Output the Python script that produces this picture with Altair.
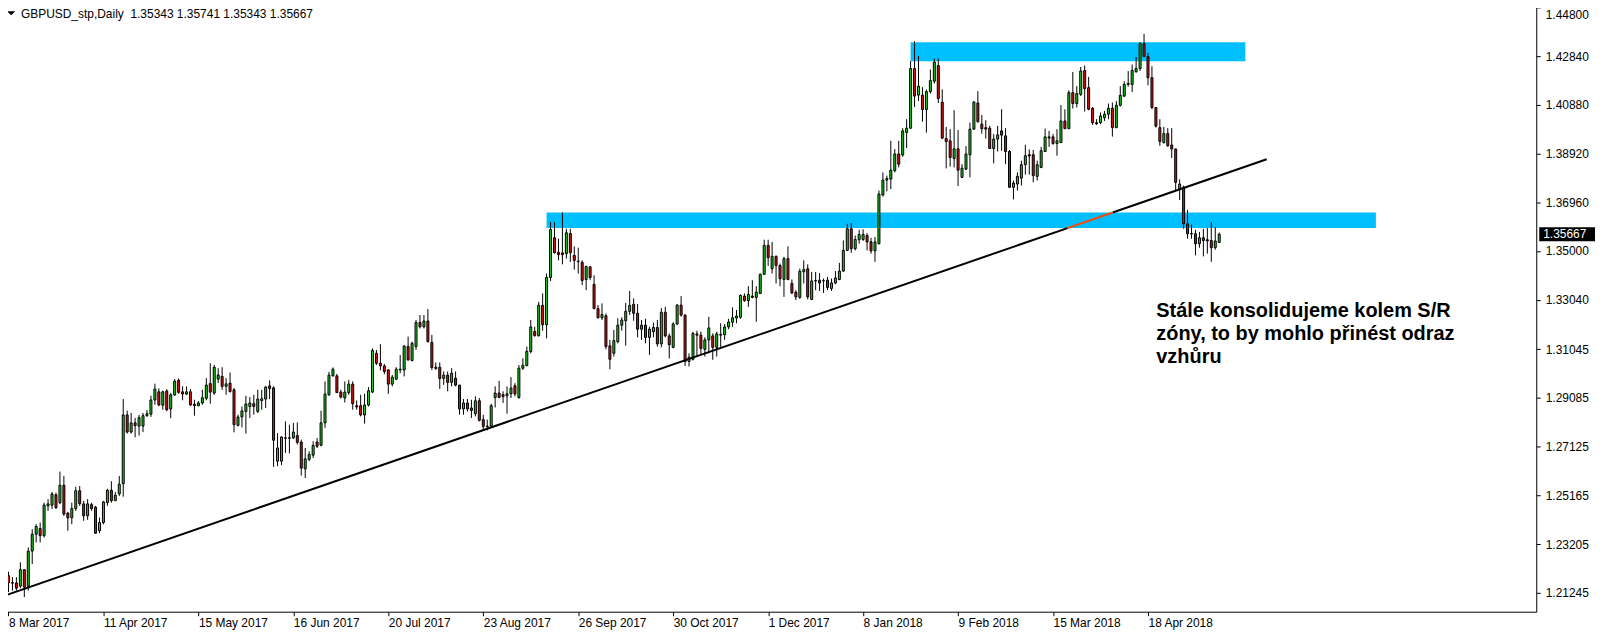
import json
import altair as alt
import pandas as pd

# ---- daily candles, GBPUSD (bar index 0 = 8 Mar 2017) ----
opens = [
    1.2193, 1.2165, 1.2164, 1.2151, 1.2217, 1.2151, 1.2292, 1.2360, 1.2383, 1.2354,
    1.2474, 1.2477, 1.2519, 1.2487, 1.2557, 1.2445, 1.2426, 1.2463, 1.2535, 1.2482,
    1.2434, 1.2479, 1.2469, 1.2374, 1.2407, 1.2487, 1.2537, 1.2495, 1.2522, 1.2563,
    1.2840, 1.2771, 1.2808, 1.2795, 1.2795, 1.2837, 1.2843, 1.2900, 1.2933, 1.2879,
    1.2936, 1.2864, 1.2920, 1.2979, 1.2933, 1.2924, 1.2933, 1.2883, 1.2877, 1.2888,
    1.2907, 1.2966, 1.2928, 1.2984, 1.2995, 1.2955, 1.2968, 1.2941, 1.2798, 1.2832,
    1.2854, 1.2874, 1.2885, 1.2854, 1.2898, 1.2904, 1.2957, 1.2949, 1.2654, 1.2654,
    1.2748, 1.2746, 1.2748, 1.2757, 1.2731, 1.2623, 1.2661, 1.2678, 1.2731, 1.2718,
    1.2808, 1.2921, 1.2997, 1.2997, 1.2932, 1.2908, 1.2930, 1.2964, 1.2877, 1.2877,
    1.2840, 1.2880, 1.2932, 1.3088, 1.3048, 1.3037, 1.3021, 1.2964, 1.2984, 1.3021,
    1.3021, 1.3115, 1.3059, 1.3115, 1.3212, 1.3195, 1.3218, 1.3132, 1.3032, 1.3032,
    1.2987, 1.3000, 1.2971, 1.2988, 1.2960, 1.2864, 1.2888, 1.2868, 1.2845, 1.2897,
    1.2821, 1.2795, 1.2794, 1.2910, 1.2928, 1.2922, 1.2917, 1.2925, 1.2957, 1.2910,
    1.3028, 1.3039, 1.3095, 1.3176, 1.3159, 1.3281, 1.3203, 1.3393, 1.3553, 1.3494,
    1.3492, 1.3489, 1.3570, 1.3482, 1.3459, 1.3454, 1.3385, 1.3436, 1.3365, 1.3268,
    1.3231, 1.3239, 1.3118, 1.3088, 1.3135, 1.3201, 1.3219, 1.3257, 1.3285, 1.3249,
    1.3185, 1.3201, 1.3152, 1.3175, 1.3192, 1.3126, 1.3253, 1.3158, 1.3112, 1.3206,
    1.3282, 1.3242, 1.3055, 1.3064, 1.3166, 1.3161, 1.3104, 1.3142, 1.3158, 1.3112,
    1.3164, 1.3163, 1.3194, 1.3213, 1.3230, 1.3233, 1.3318, 1.3300, 1.3318, 1.3313,
    1.3329, 1.3406, 1.3522, 1.3428, 1.3478, 1.3441, 1.3385, 1.3469, 1.3369, 1.3334,
    1.3313, 1.3416, 1.3428, 1.3305, 1.3379, 1.3382, 1.3380, 1.3382, 1.3349, 1.3371,
    1.3385, 1.3419, 1.3502, 1.3589, 1.3509, 1.3545, 1.3546, 1.3562, 1.3537, 1.3500,
    1.3529, 1.3725, 1.3785, 1.3789, 1.3823, 1.3890, 1.3886, 1.3977, 1.3994, 1.4234,
    1.4127, 1.4127, 1.4069, 1.4141, 1.4183, 1.4246, 1.4099, 1.3952, 1.3943, 1.3872,
    1.3911, 1.3796, 1.3829, 1.3887, 1.3990, 1.4095, 1.4010, 1.3996, 1.3994, 1.3912,
    1.3950, 1.3983, 1.3963, 1.3900, 1.3756, 1.3769, 1.3793, 1.3847, 1.3887, 1.3887,
    1.3800, 1.3836, 1.3900, 1.3954, 1.3959, 1.3932, 1.3936, 1.4023, 1.3992, 1.4137,
    1.4093, 1.4130, 1.4226, 1.4157, 1.4074, 1.4016, 1.4016, 1.4036, 1.4050, 1.4074,
    1.3996, 1.4086, 1.4123, 1.4170, 1.4170, 1.4221, 1.4234, 1.4334, 1.4282, 1.4197,
    1.4077, 1.3996, 1.3936, 1.3972, 1.3926, 1.3910, 1.3749, 1.3756, 1.3609, 1.3570,
    1.3569, 1.3529, 1.3553, 1.3545, 1.3542, 1.3513, 1.35343,
]
highs = [
    1.2209, 1.2187, 1.2187, 1.2247, 1.2220, 1.2307, 1.2380, 1.2400, 1.2407, 1.2487,
    1.2501, 1.2530, 1.2527, 1.2612, 1.2594, 1.2450, 1.2487, 1.2551, 1.2554, 1.2494,
    1.2501, 1.2487, 1.2474, 1.2427, 1.2494, 1.2543, 1.2573, 1.2530, 1.2594, 1.2904,
    1.2857, 1.2848, 1.2828, 1.2840, 1.2848, 1.2859, 1.2917, 1.2966, 1.2947, 1.2938,
    1.2944, 1.2928, 1.2984, 1.2987, 1.2955, 1.2955, 1.2944, 1.2901, 1.2896, 1.2942,
    1.2988, 1.3048, 1.3041, 1.3028, 1.3032, 1.2988, 1.3011, 1.2948, 1.2841, 1.2874,
    1.2917, 1.2912, 1.2921, 1.2941, 1.2941, 1.2957, 1.2979, 1.2955, 1.2767, 1.2754,
    1.2814, 1.2801, 1.2808, 1.2810, 1.2741, 1.2707, 1.2694, 1.2734, 1.2747, 1.2857,
    1.2975, 1.3013, 1.3031, 1.3005, 1.2941, 1.2975, 1.2981, 1.2975, 1.2898, 1.2921,
    1.2925, 1.2952, 1.3108, 1.3101, 1.3125, 1.3045, 1.3024, 1.3001, 1.3032, 1.3081,
    1.3121, 1.3155, 1.3135, 1.3222, 1.3242, 1.3242, 1.3266, 1.3162, 1.3051, 1.3051,
    1.3015, 1.3015, 1.3028, 1.3015, 1.2961, 1.2904, 1.2904, 1.2901, 1.2915, 1.2908,
    1.2841, 1.2821, 1.2885, 1.2955, 1.2977, 1.2935, 1.2955, 1.2992, 1.2968, 1.3041,
    1.3068, 1.3115, 1.3222, 1.3195, 1.3295, 1.3329, 1.3409, 1.3616, 1.3616, 1.3549,
    1.3655, 1.3589, 1.3589, 1.3518, 1.3513, 1.3462, 1.3441, 1.3438, 1.3402, 1.3282,
    1.3289, 1.3248, 1.3142, 1.3182, 1.3229, 1.3233, 1.3291, 1.3339, 1.3309, 1.3286,
    1.3222, 1.3227, 1.3195, 1.3211, 1.3222, 1.3270, 1.3275, 1.3168, 1.3213, 1.3286,
    1.3318, 1.3244, 1.3088, 1.3175, 1.3179, 1.3175, 1.3152, 1.3235, 1.3168, 1.3175,
    1.3209, 1.3206, 1.3227, 1.3273, 1.3262, 1.3325, 1.3329, 1.3358, 1.3382, 1.3358,
    1.3409, 1.3545, 1.3545, 1.3536, 1.3482, 1.3449, 1.3476, 1.3518, 1.3385, 1.3342,
    1.3429, 1.3462, 1.3446, 1.3415, 1.3415, 1.3411, 1.3389, 1.3395, 1.3389, 1.3419,
    1.3452, 1.3542, 1.3609, 1.3612, 1.3562, 1.3585, 1.3587, 1.3572, 1.3553, 1.3556,
    1.3743, 1.3816, 1.3803, 1.3943, 1.3910, 1.3943, 1.3994, 1.4030, 1.4264, 1.4344,
    1.4284, 1.4159, 1.4150, 1.4230, 1.4274, 1.4274, 1.4150, 1.3999, 1.3990, 1.4066,
    1.3986, 1.3849, 1.3922, 1.4016, 1.4103, 1.4143, 1.4047, 1.4026, 1.4003, 1.3970,
    1.4003, 1.4070, 1.3994, 1.3906, 1.3783, 1.3816, 1.3863, 1.3927, 1.3908, 1.3906,
    1.3863, 1.3919, 1.3992, 1.3983, 1.3970, 1.3990, 1.4087, 1.4070, 1.4146, 1.4220,
    1.4163, 1.4240, 1.4246, 1.4200, 1.4079, 1.4030, 1.4057, 1.4063, 1.4093, 1.4097,
    1.4103, 1.4163, 1.4183, 1.4224, 1.4250, 1.4280, 1.4340, 1.4374, 1.4297, 1.4243,
    1.4079, 1.4030, 1.3999, 1.3994, 1.3994, 1.3912, 1.3788, 1.3763, 1.3665, 1.3606,
    1.3585, 1.3576, 1.3589, 1.3592, 1.3616, 1.3596, 1.35741,
]
lows = [
    1.2127, 1.2133, 1.2133, 1.2143, 1.2107, 1.2133, 1.2240, 1.2327, 1.2327, 1.2347,
    1.2454, 1.2461, 1.2461, 1.2481, 1.2434, 1.2374, 1.2400, 1.2454, 1.2474, 1.2414,
    1.2418, 1.2454, 1.2362, 1.2364, 1.2400, 1.2474, 1.2487, 1.2494, 1.2514, 1.2511,
    1.2765, 1.2765, 1.2750, 1.2757, 1.2771, 1.2832, 1.2832, 1.2881, 1.2875, 1.2861,
    1.2855, 1.2827, 1.2917, 1.2925, 1.2899, 1.2920, 1.2877, 1.2837, 1.2875, 1.2881,
    1.2899, 1.2885, 1.2921, 1.2968, 1.2941, 1.2921, 1.2930, 1.2770, 1.2794, 1.2790,
    1.2765, 1.2828, 1.2841, 1.2848, 1.2861, 1.2868, 1.2904, 1.2631, 1.2634, 1.2638,
    1.2687, 1.2685, 1.2743, 1.2721, 1.2596, 1.2586, 1.2654, 1.2667, 1.2707, 1.2714,
    1.2788, 1.2917, 1.2995, 1.2928, 1.2906, 1.2890, 1.2921, 1.2861, 1.2861, 1.2834,
    1.2805, 1.2874, 1.2928, 1.3041, 1.3019, 1.3004, 1.2925, 1.2955, 1.2981, 1.3008,
    1.2995, 1.3059, 1.3055, 1.3102, 1.3188, 1.3188, 1.3131, 1.3021, 1.3021, 1.2945,
    1.2961, 1.2935, 1.2955, 1.2955, 1.2841, 1.2841, 1.2854, 1.2828, 1.2834, 1.2814,
    1.2778, 1.2778, 1.2792, 1.2870, 1.2908, 1.2888, 1.2845, 1.2908, 1.2915, 1.2905,
    1.3021, 1.3035, 1.3088, 1.3155, 1.3155, 1.3179, 1.3148, 1.3379, 1.3489, 1.3462,
    1.3446, 1.3469, 1.3456, 1.3425, 1.3409, 1.3362, 1.3342, 1.3382, 1.3265, 1.3228,
    1.3222, 1.3104, 1.3024, 1.3075, 1.3128, 1.3179, 1.3119, 1.3242, 1.3219, 1.3152,
    1.3142, 1.3128, 1.3082, 1.3152, 1.3115, 1.3112, 1.3152, 1.3067, 1.3108, 1.3202,
    1.3235, 1.3037, 1.3035, 1.3059, 1.3075, 1.3082, 1.3075, 1.3088, 1.3062, 1.3075,
    1.3108, 1.3142, 1.3185, 1.3195, 1.3209, 1.3227, 1.3295, 1.3275, 1.3309, 1.3215,
    1.3326, 1.3404, 1.3440, 1.3409, 1.3369, 1.3358, 1.3315, 1.3382, 1.3326, 1.3302,
    1.3307, 1.3369, 1.3305, 1.3302, 1.3342, 1.3339, 1.3331, 1.3342, 1.3339, 1.3366,
    1.3382, 1.3415, 1.3500, 1.3492, 1.3502, 1.3529, 1.3540, 1.3502, 1.3489, 1.3456,
    1.3526, 1.3719, 1.3740, 1.3749, 1.3816, 1.3836, 1.3879, 1.3914, 1.3990, 1.4079,
    1.4103, 1.4020, 1.3976, 1.4133, 1.4173, 1.4095, 1.3950, 1.3832, 1.3839, 1.3836,
    1.3761, 1.3793, 1.3825, 1.3796, 1.3987, 1.4016, 1.3972, 1.3952, 1.3910, 1.3852,
    1.3900, 1.3903, 1.3849, 1.3753, 1.3707, 1.3743, 1.3763, 1.3807, 1.3807, 1.3776,
    1.3783, 1.3833, 1.3899, 1.3919, 1.3927, 1.3883, 1.3934, 1.3990, 1.3990, 1.4073,
    1.4077, 1.4123, 1.4061, 1.4066, 1.4007, 1.4007, 1.4010, 1.4023, 1.4030, 1.3960,
    1.3994, 1.4081, 1.4119, 1.4161, 1.4139, 1.4217, 1.4224, 1.4280, 1.4166, 1.4070,
    1.3996, 1.3923, 1.3932, 1.3919, 1.3874, 1.3743, 1.3705, 1.3589, 1.3549, 1.3549,
    1.3482, 1.3513, 1.3478, 1.3489, 1.3456, 1.3505, 1.35343,
]
closes = [
    1.2164, 1.2163, 1.2143, 1.2217, 1.2147, 1.2292, 1.2360, 1.2391, 1.2354, 1.2477,
    1.2482, 1.2522, 1.2467, 1.2557, 1.2441, 1.2426, 1.2463, 1.2535, 1.2483, 1.2434,
    1.2482, 1.2463, 1.2364, 1.2407, 1.2490, 1.2537, 1.2495, 1.2517, 1.2561, 1.2840,
    1.2771, 1.2808, 1.2797, 1.2829, 1.2837, 1.2845, 1.2900, 1.2944, 1.2880, 1.2933,
    1.2861, 1.2921, 1.2976, 1.2931, 1.2924, 1.2933, 1.2880, 1.2877, 1.2888, 1.2909,
    1.2960, 1.2932, 1.3032, 1.3001, 1.2955, 1.2965, 1.2934, 1.2801, 1.2832, 1.2856,
    1.2884, 1.2888, 1.2874, 1.2904, 1.2905, 1.2952, 1.2946, 1.2738, 1.2707, 1.2751,
    1.2746, 1.2748, 1.2771, 1.2730, 1.2626, 1.2663, 1.2681, 1.2717, 1.2714, 1.2808,
    1.2924, 1.3000, 1.3024, 1.2930, 1.2912, 1.2932, 1.2964, 1.2885, 1.2872, 1.2840,
    1.2880, 1.2937, 1.3099, 1.3048, 1.3037, 1.3015, 1.2964, 1.2992, 1.3024, 1.3024,
    1.3117, 1.3061, 1.3128, 1.3212, 1.3195, 1.3218, 1.3135, 1.3031, 1.3027, 1.2987,
    1.3000, 1.2971, 1.3008, 1.2960, 1.2864, 1.2888, 1.2864, 1.2858, 1.2897, 1.2818,
    1.2794, 1.2793, 1.2877, 1.2928, 1.2910, 1.2914, 1.2925, 1.2948, 1.2924, 1.3028,
    1.3040, 1.3096, 1.3194, 1.3159, 1.3281, 1.3203, 1.3393, 1.3586, 1.3493, 1.3485,
    1.3485, 1.3573, 1.3493, 1.3462, 1.3457, 1.3381, 1.3437, 1.3393, 1.3268, 1.3231,
    1.3244, 1.3115, 1.3064, 1.3139, 1.3201, 1.3222, 1.3257, 1.3281, 1.3249, 1.3185,
    1.3201, 1.3152, 1.3185, 1.3192, 1.3126, 1.3253, 1.3158, 1.3122, 1.3206, 1.3282,
    1.3242, 1.3055, 1.3072, 1.3168, 1.3161, 1.3108, 1.3142, 1.3190, 1.3112, 1.3166,
    1.3161, 1.3194, 1.3214, 1.3231, 1.3238, 1.3321, 1.3300, 1.3325, 1.3313, 1.3334,
    1.3406, 1.3522, 1.3473, 1.3478, 1.3441, 1.3388, 1.3469, 1.3385, 1.3331, 1.3315,
    1.3418, 1.3425, 1.3315, 1.3379, 1.3381, 1.3371, 1.3379, 1.3353, 1.3371, 1.3391,
    1.3419, 1.3502, 1.3589, 1.3509, 1.3546, 1.3566, 1.3566, 1.3536, 1.3500, 1.3536,
    1.3729, 1.3785, 1.3791, 1.3825, 1.3890, 1.3849, 1.3983, 1.3994, 1.4234, 1.4123,
    1.4162, 1.4069, 1.4141, 1.4186, 1.4260, 1.4113, 1.3954, 1.3940, 1.3876, 1.3911,
    1.3825, 1.3833, 1.3890, 1.3990, 1.4099, 1.4020, 1.3992, 1.3990, 1.3912, 1.3950,
    1.3967, 1.3966, 1.3900, 1.3756, 1.3773, 1.3800, 1.3847, 1.3883, 1.3882, 1.3803,
    1.3847, 1.3903, 1.3959, 1.3959, 1.3932, 1.3943, 1.4023, 1.3992, 1.4137, 1.4093,
    1.4133, 1.4224, 1.4153, 1.4070, 1.4016, 1.4012, 1.4043, 1.4050, 1.4074, 1.3996,
    1.4086, 1.4126, 1.4170, 1.4174, 1.4226, 1.4234, 1.4334, 1.4282, 1.4197, 1.4077,
    1.4002, 1.3940, 1.3972, 1.3923, 1.3910, 1.3776, 1.3769, 1.3609, 1.3569, 1.3568,
    1.3529, 1.3553, 1.3542, 1.3540, 1.3513, 1.3540, 1.35667,
]

# ---- axis labels ----
date_labels = ["8 Mar 2017", "11 Apr 2017", "15 May 2017", "16 Jun 2017", "20 Jul 2017",
               "23 Aug 2017", "26 Sep 2017", "30 Oct 2017", "1 Dec 2017", "8 Jan 2018",
               "9 Feb 2018", "15 Mar 2018", "18 Apr 2018"]
date_label_bars = [0, 24, 48, 72, 96, 120, 144, 168, 192, 216, 240, 264, 288]
price_ticks = [1.44800, 1.42840, 1.40880, 1.38920, 1.36960, 1.35000, 1.33040,
               1.31045, 1.29085, 1.27125, 1.25165, 1.23205, 1.21245]

# ---- support / resistance zones ----
zone_start = [136, 228]
zone_end = [345.6, 312.6]
zone_low = [1.35918, 1.42637]
zone_high = [1.36547, 1.43398]

# ---- trend line ----
trend_bar = [-0.375, 318.0]
trend_price = [1.21162, 1.38690]

# ---- annotation ----
note_lines = ["Stále konsolidujeme kolem S/R", "zóny, to by mohlo přinést odraz", "vzhůru"]
note_bar = [290.1]
note_price = [1.32360]

GREEN = "#1ccf1c"
RED = "#d81212"
BLUE = "#00BFFF"
ORANGE = "#FF4500"

n = len(opens)
candles = pd.DataFrame({
    "bar": list(range(n)),
    "open": opens, "high": highs, "low": lows, "close": closes,
})
candles["dir"] = ["up" if c >= o else "down" for o, c in zip(opens, closes)]

zones = pd.DataFrame({"x1": zone_start, "x2": zone_end, "lo": zone_low, "hi": zone_high})


# the trend line is black outside the lower zone and orange inside it
def trend_at(p):
    return trend_bar[0] + (p - trend_price[0]) / (trend_price[1] - trend_price[0]) * (trend_bar[1] - trend_bar[0])


enter_bar, exit_bar = trend_at(zone_low[0]), trend_at(zone_high[0])
trend_black = pd.DataFrame({
    "bar": [trend_bar[0], enter_bar, exit_bar, trend_bar[1]],
    "price": [trend_price[0], zone_low[0], zone_high[0], trend_price[1]],
    "seg": ["a", "a", "b", "b"],
})
trend_orange = pd.DataFrame({"bar": [enter_bar, exit_bar], "price": [zone_low[0], zone_high[0]]})

note = pd.DataFrame({"bar": note_bar, "price": note_price})
last = pd.DataFrame({"price": [closes[-1]], "label": [f"{closes[-1]:.5f}"]})
one = pd.DataFrame({"k": [0]})

header = ("GBPUSD_stp,Daily\u00a0 "
          f"{opens[-1]:.5f} {highs[-1]:.5f} {lows[-1]:.5f} {closes[-1]:.5f}")

x_scale = alt.Scale(domain=[-0.375, 384.875], nice=False, zero=False)
y_scale = alt.Scale(domain=[1.20481, 1.44960], nice=False, zero=False)

label_expr = json.dumps(date_labels) + "[round(datum.value / 24)]"
x_axis = alt.Axis(values=date_label_bars, labelExpr=label_expr, labelAlign="left",
                  labelPadding=2, tickSize=4, title=None, orient="bottom", labelFlush=False)
y_axis = alt.Axis(values=price_ticks, format=".5f", orient="right", labelPadding=5,
                  tickSize=4, title=None, labelFlush=5, labelFlushOffset=-2)


def X(field, **kw):
    return alt.X(field, scale=x_scale, axis=x_axis, **kw)


def Y(field, **kw):
    return alt.Y(field, scale=y_scale, axis=y_axis, **kw)


bands = alt.Chart(zones).mark_rect(color=BLUE).encode(
    x=X("x1:Q"), x2="x2:Q", y=Y("lo:Q"), y2="hi:Q")

wicks = alt.Chart(candles).mark_rule(color="black", strokeWidth=1).encode(
    x=X("bar:Q"), y=Y("low:Q"), y2="high:Q")

bodies = alt.Chart(candles).mark_bar(size=2, stroke="black", strokeWidth=1).encode(
    x=X("bar:Q"), y=Y("open:Q"), y2="close:Q",
    color=alt.Color("dir:N", scale=alt.Scale(domain=["up", "down"], range=[GREEN, RED]),
                    legend=None))

trend_line = alt.Chart(trend_black).mark_line(color="black", strokeWidth=2).encode(
    x=X("bar:Q"), y=Y("price:Q"), detail="seg:N")

trend_inside = alt.Chart(trend_orange).mark_line(color=ORANGE, strokeWidth=2).encode(
    x=X("bar:Q"), y=Y("price:Q"))

note_text = alt.Chart(note).mark_text(
    text=note_lines, align="left", baseline="alphabetic", font="Liberation Sans",
    fontSize=20, fontWeight="bold", lineHeight=23.5, color="black").encode(
    x=X("bar:Q"), y=Y("price:Q"))

header_text = alt.Chart(one).mark_text(
    text=header, align="left", baseline="alphabetic", font="Liberation Sans",
    fontSize=12, color="black").encode(x=alt.value(19), y=alt.value(14.7))

header_tri = alt.Chart(one).mark_point(
    shape="M-1,-0.5L1,-0.5L0,0.5Z", filled=True, color="black", size=64,
    strokeWidth=0, opacity=1).encode(x=alt.value(9.2), y=alt.value(10))

last_box = alt.Chart(last).mark_rule(color="black", strokeWidth=14, strokeCap="butt").encode(
    x=alt.value(1544), x2=alt.value(1600), y=Y("price:Q"))

last_text = alt.Chart(last).mark_text(
    align="left", baseline="middle", font="Liberation Sans", fontSize=12,
    color="white").encode(x=alt.value(1548), y=Y("price:Q"), text="label:N")

chart = alt.layer(
    bands, wicks, bodies, trend_line, trend_inside, note_text,
    header_text, header_tri, last_box, last_text
).properties(
    width=1541, height=611,
    autosize=alt.AutoSizeParams(type="none"),
    padding={"left": -6, "top": -6, "right": 60, "bottom": 20},
    background="white",
).configure_view(
    stroke="black", strokeWidth=1
).configure_axis(
    labelFont="Liberation Sans", labelFontSize=12, labelColor="black",
    tickColor="black", domain=False, grid=False, labelOverlap=False,
)

chart.save("out.html", embed_options={"renderer": "svg", "actions": False})
